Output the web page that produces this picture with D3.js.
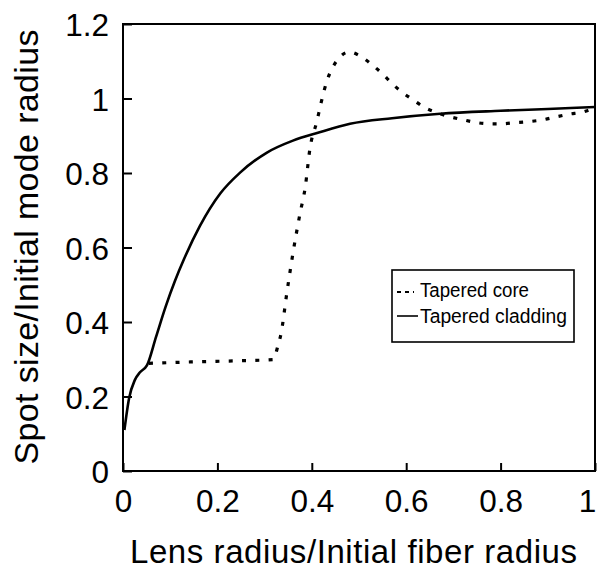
<!DOCTYPE html>
<html>
<head>
<meta charset="utf-8">
<script src="https://cdn.jsdelivr.net/npm/d3@7"></script>
<style>
  html, body { margin: 0; padding: 0; background: #fff; }
  svg { display: block; }
  text { font-family: "Liberation Sans", Arial, Helvetica, sans-serif; fill: #000; }
</style>
</head>
<body>
<svg id="chart"></svg>
<script>
'use strict';

// ── Data ──────────────────────────────────────────────────
const cladX = [0.003, 0.013, 0.025, 0.036, 0.051, 0.07, 0.09, 0.11, 0.13, 0.163,
               0.206, 0.248, 0.305, 0.36, 0.413, 0.481, 0.57, 0.672, 0.8, 0.9, 1.0];
const cladY = [0.11, 0.196, 0.244, 0.265, 0.284, 0.36, 0.44, 0.51, 0.571, 0.658,
               0.745, 0.801, 0.855, 0.887, 0.908, 0.932, 0.947, 0.959, 0.967, 0.972, 0.977];

const coreX = [0.055, 0.15, 0.25, 0.318, 0.328, 0.335, 0.347, 0.36, 0.375, 0.386,
               0.396, 0.411, 0.42, 0.432, 0.445, 0.46, 0.479, 0.505, 0.53, 0.55,
               0.57, 0.59, 0.615, 0.64, 0.665, 0.69, 0.72, 0.75, 0.78, 0.8,
               0.83, 0.86, 0.89, 0.915, 0.945, 0.975, 1.0];
const coreY = [0.289, 0.293, 0.296, 0.299, 0.335, 0.37, 0.477, 0.584, 0.691, 0.761,
               0.865, 0.94, 0.99, 1.047, 1.085, 1.112, 1.125, 1.112, 1.088, 1.066,
               1.04, 1.018, 0.996, 0.975, 0.962, 0.952, 0.943, 0.935, 0.932, 0.932,
               0.935, 0.938, 0.943, 0.95, 0.958, 0.964, 0.975];

const xTicks = [0, 0.2, 0.4, 0.6, 0.8, 1];
const xTickLabels = ['0', '0.2', '0.4', '0.6', '0.8', '1'];
const yTicks = [0, 0.2, 0.4, 0.6, 0.8, 1, 1.2];
const yTickLabels = ['0', '0.2', '0.4', '0.6', '0.8', '1', '1.2'];

const legendLabels = ['Tapered core', 'Tapered cladding'];

// ── Layout ────────────────────────────────────────────────
const W = 598, H = 570;
const margin = { top: 24, right: 3, bottom: 99, left: 123 };

const svg = d3.select('#chart').attr('width', W).attr('height', H);

const x = d3.scaleLinear().domain([0, 1]).range([margin.left, W - margin.right]);
const y = d3.scaleLinear().domain([0, 1.2]).range([H - margin.bottom, margin.top]);

// Axes (ticks point inward)
const xAxis = d3.axisBottom(x)
  .tickValues(xTicks)
  .tickFormat((d, i) => xTickLabels[i])
  .tickSizeInner(-8).tickSizeOuter(0).tickPadding(19);

const yAxis = d3.axisLeft(y)
  .tickValues(yTicks)
  .tickFormat((d, i) => yTickLabels[i])
  .tickSizeInner(-9).tickSizeOuter(0).tickPadding(14);

const gx = svg.append('g')
  .attr('transform', `translate(0,${y(0)})`)
  .call(xAxis);
const gy = svg.append('g')
  .attr('transform', `translate(${x(0)},0)`)
  .call(yAxis);

[gx, gy].forEach(g => {
  g.select('.domain').remove();
  g.selectAll('.tick line').attr('stroke', '#000').attr('stroke-width', 2);
  g.selectAll('.tick text')
    .attr('font-size', 31.5)
    .attr('font-family', '"Liberation Sans", Arial, sans-serif')
    .attr('fill', '#000');
});
gy.selectAll('.tick text').attr('dy', '0.38em');
// last x label sits against the right edge, nudge it in
gx.selectAll('.tick text').filter(d => d === 1).attr('dx', -8);

// Frame
svg.append('rect')
  .attr('x', x(0)).attr('y', y(1.2))
  .attr('width', x(1) - x(0)).attr('height', y(0) - y(1.2))
  .attr('fill', 'none').attr('stroke', '#000').attr('stroke-width', 2);

// Curves
const line = d3.line()
  .x(d => x(d[0]))
  .y(d => y(d[1]))
  .curve(d3.curveMonotoneX);

const clad = cladX.map((v, i) => [v, cladY[i]]);
const core = coreX.map((v, i) => [v, coreY[i]]);

svg.append('path')
  .datum(core)
  .attr('d', line)
  .attr('fill', 'none')
  .attr('stroke', '#000')
  .attr('stroke-width', 3.2)
  .attr('stroke-dasharray', '4,9.3');

svg.append('path')
  .datum(clad)
  .attr('d', line)
  .attr('fill', 'none')
  .attr('stroke', '#000')
  .attr('stroke-width', 2.6);

// Legend
const lg = svg.append('g');
lg.append('rect')
  .attr('x', 392).attr('y', 270)
  .attr('width', 182).attr('height', 72)
  .attr('fill', '#fff').attr('stroke', '#000').attr('stroke-width', 1.6);

lg.append('line')
  .attr('x1', 397).attr('x2', 414).attr('y1', 292).attr('y2', 292)
  .attr('stroke', '#000').attr('stroke-width', 2)
  .attr('stroke-dasharray', '4,4');
lg.append('line')
  .attr('x1', 397).attr('x2', 418).attr('y1', 316).attr('y2', 316)
  .attr('stroke', '#000').attr('stroke-width', 1.6);

legendLabels.forEach((t, i) => {
  lg.append('text')
    .attr('x', 420)
    .attr('y', 297 + i * 26)
    .attr('font-size', 19.5)
    .attr('textLength', i === 0 ? 109 : 147).attr('lengthAdjust', 'spacingAndGlyphs')
    .text(t);
});

// Axis titles
svg.append('text')
  .attr('x', 353.5).attr('y', 563)
  .attr('text-anchor', 'middle')
  .attr('font-size', 33)
  .attr('textLength', 447).attr('lengthAdjust', 'spacing')
  .text('Lens radius/Initial fiber radius');

svg.append('text')
  .attr('transform', 'translate(38,247) rotate(-90)')
  .attr('text-anchor', 'middle')
  .attr('font-size', 34)
  .attr('textLength', 435).attr('lengthAdjust', 'spacing')
  .text('Spot size/Initial mode radius');
</script>
</body>
</html>
